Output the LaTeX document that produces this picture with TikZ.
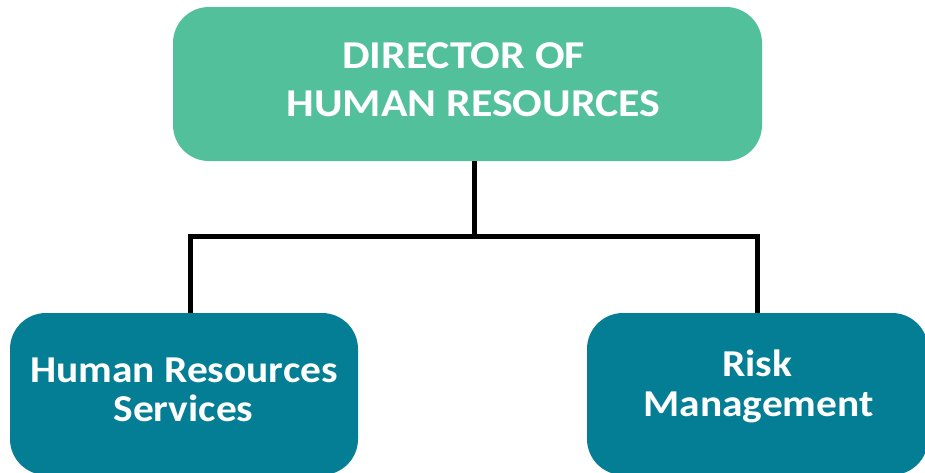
\documentclass[tikz,border=0pt]{standalone}
\usepackage{fontspec}
\setmainfont{Carlito}
\newfontfamily\topfont{Carlito}[FakeStretch=1.11]
\newfontfamily\subfont{Carlito}[FakeStretch=1.09]
\definecolor{topgreen}{RGB}{82,192,154}
\definecolor{teal}{RGB}{4,126,149}
\tikzset{
  x=1pt,y=-1pt,
  box/.style={rounded corners=36pt, inner sep=0pt},
  topbox/.style={box, fill=topgreen, minimum width=589pt, minimum height=154pt},
  subbox/.style={box, fill=teal, minimum width=348pt, minimum height=162pt},
  lbl/.style={inner sep=0pt, anchor=base, text=white},
  toplbl/.style={lbl, font=\topfont\fontsize{39.5}{48}\selectfont\bfseries},
  sublbl/.style={lbl, font=\subfont\fontsize{38}{40}\selectfont\bfseries},
  conn/.style={line width=5pt, black}
}
\begin{document}
\begin{tikzpicture}
\useasboundingbox (0,0) rectangle (925,472);
\clip (0,0) rectangle (925,472);
\node[topbox] (dir) at (467.5,84) {};
\node[subbox] (hrs) at (184,394) {};
\node[subbox, minimum width=341pt] (risk) at (757.5,394) {};
\node[toplbl] (dir1) at (463.5,68) {DIRECTOR OF};
\node[toplbl] (dir2) at (473.5,116) {HUMAN RESOURCES};
\node[sublbl] (hrs1) at (184,382.3) {Human Resources};
\node[sublbl] (hrs2) at (183.5,421) {Services};
\node[sublbl] (risk1) at (757,376.7) {Risk};
\node[sublbl] (risk2) at (758.5,416.7) {Management};
\coordinate (mid) at (474.5,236.5);
\draw[conn] (dir.south -| mid) -- (mid);
\draw[conn] (hrs.north -| 190.5,0) |- (mid) -| (risk.north);
\end{tikzpicture}
\end{document}
